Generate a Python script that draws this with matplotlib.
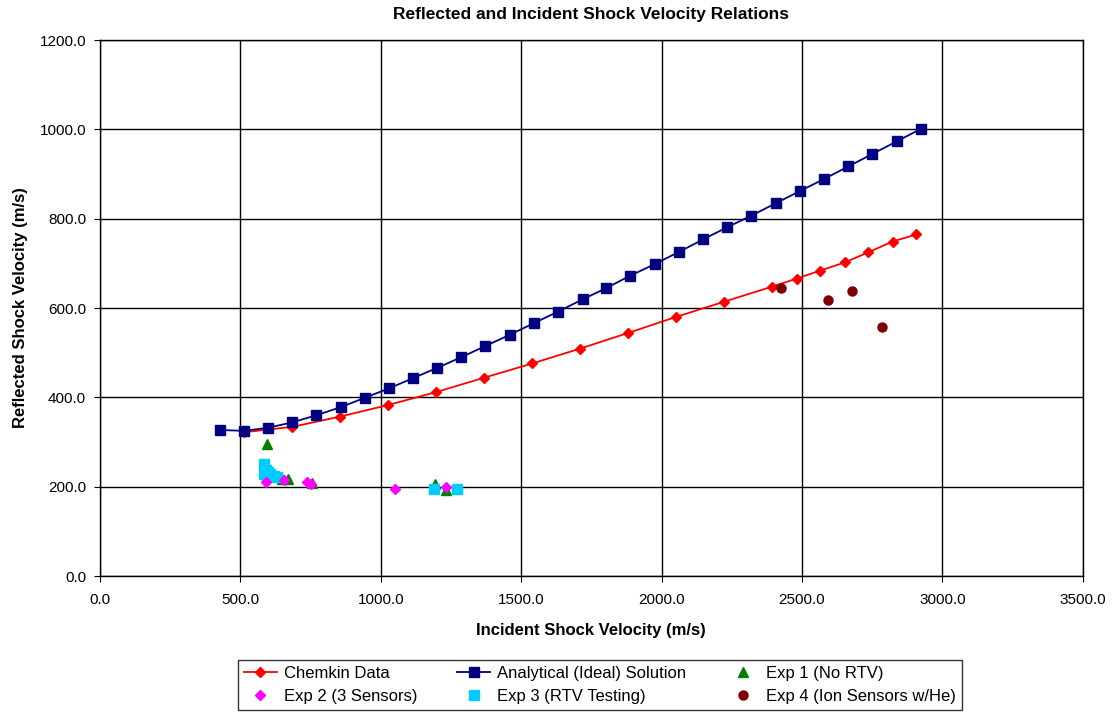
import matplotlib
matplotlib.use("Agg")
import matplotlib.pyplot as plt
from matplotlib.ticker import MultipleLocator, FormatStrFormatter

plt.rcParams['font.family'] = ['Liberation Sans', 'DejaVu Sans']

# Chemkin data
chem_x = [514, 685, 856, 1027, 1198, 1368, 1540, 1709, 1880, 2051, 2222, 2394,
          2481, 2566, 2652, 2737, 2823, 2908]
chem_y = [322, 334, 357, 383, 412, 444, 476, 509, 544, 580, 614, 648,
          666, 684, 702, 725, 749, 765]

# Analytical (ideal) solution
ana_x = [427, 513, 599, 685, 771, 857, 943, 1029, 1115, 1201, 1287, 1373, 1459,
         1545, 1631, 1721, 1804, 1887, 1978, 2063, 2149, 2234, 2320, 2408, 2493,
         2579, 2665, 2751, 2837, 2923]
ana_y = [327, 325, 332, 344, 360, 378, 399, 420, 443, 466, 490, 515, 540,
         566, 592, 620, 645, 672, 699, 726, 754, 781, 807, 835, 862,
         889, 917, 945, 973, 1001]

# experiments
exp1_x = [594, 647, 669, 754, 1195, 1234]
exp1_y = [296, 217, 217, 209, 205, 193]

exp2_x = [590, 656, 736, 750, 1051, 1232]
exp2_y = [211, 215, 211, 207, 194, 200]

exp3_x = [583, 590, 585, 600, 610, 620, 630, 595, 604, 1189, 1273]
exp3_y = [251, 238, 228, 232, 225, 223, 222, 224, 229, 195, 194]

exp4_x = [2427, 2592, 2677, 2785]
exp4_y = [646, 619, 638, 557]

fig = plt.figure(figsize=(11.13, 7.12), dpi=100)
ax = fig.add_axes([0.0898, 0.191, 0.883, 0.7527])

l1, = ax.plot(chem_x, chem_y, color='#FF0000', marker='D', markersize=5,
              linewidth=1.3, label='Chemkin Data', zorder=3)
l2, = ax.plot(ana_x, ana_y, color='#000080', marker='s', markersize=6.5,
              linewidth=1.3, label='Analytical (Ideal) Solution', zorder=4)
s1, = ax.plot(exp1_x, exp1_y, linestyle='none', color='#008000', marker='^',
              markersize=7, label='Exp 1 (No RTV)', zorder=5)
s2, = ax.plot(exp2_x, exp2_y, linestyle='none', color='#FF00FF', marker='D',
              markersize=5.5, label='Exp 2 (3 Sensors)', zorder=6)
s3, = ax.plot(exp3_x, exp3_y, linestyle='none', color='#00CCFF', marker='s',
              markersize=6.5, label='Exp 3 (RTV Testing)', zorder=5)
s4, = ax.plot(exp4_x, exp4_y, linestyle='none', color='#800000', marker='o',
              markersize=6.5, label='Exp 4 (Ion Sensors w/He)', zorder=5)

ax.set_xlim(0, 3500)
ax.set_ylim(0, 1200)
ax.xaxis.set_major_locator(MultipleLocator(500))
ax.yaxis.set_major_locator(MultipleLocator(200))
ax.xaxis.set_major_formatter(FormatStrFormatter('%.1f'))
ax.yaxis.set_major_formatter(FormatStrFormatter('%.1f'))
ax.grid(True, color='black', linewidth=1.0)
ax.set_axisbelow(True)
for sp in ax.spines.values():
    sp.set_color('black')
    sp.set_linewidth(1.0)
ax.tick_params(direction='out', length=4, labelsize=11, color='black')
ax.tick_params(axis='x', pad=8)
ax.tick_params(axis='y', pad=6)

ax.set_title('Reflected and Incident Shock Velocity Relations', fontsize=12.5,
             fontweight='bold', pad=15)
ax.set_xlabel('Incident Shock Velocity (m/s)', fontsize=12, fontweight='bold', labelpad=12)
ax.set_ylabel('Reflected Shock Velocity (m/s)', fontsize=12, fontweight='bold', labelpad=8)

leg = fig.legend([l1, s2, l2, s3, s1, s4],
                 [h.get_label() for h in [l1, s2, l2, s3, s1, s4]],
                 ncol=3, loc='center', bbox_to_anchor=(0.539, 0.038),
                 fontsize=12, frameon=True, fancybox=False, handlelength=2.0,
                 handletextpad=0.4, columnspacing=2.4, borderpad=0.35,
                 labelspacing=0.45)
leg.get_frame().set_edgecolor('black')
leg.get_frame().set_linewidth(1.0)

fig.savefig('out.png', dpi=100)
